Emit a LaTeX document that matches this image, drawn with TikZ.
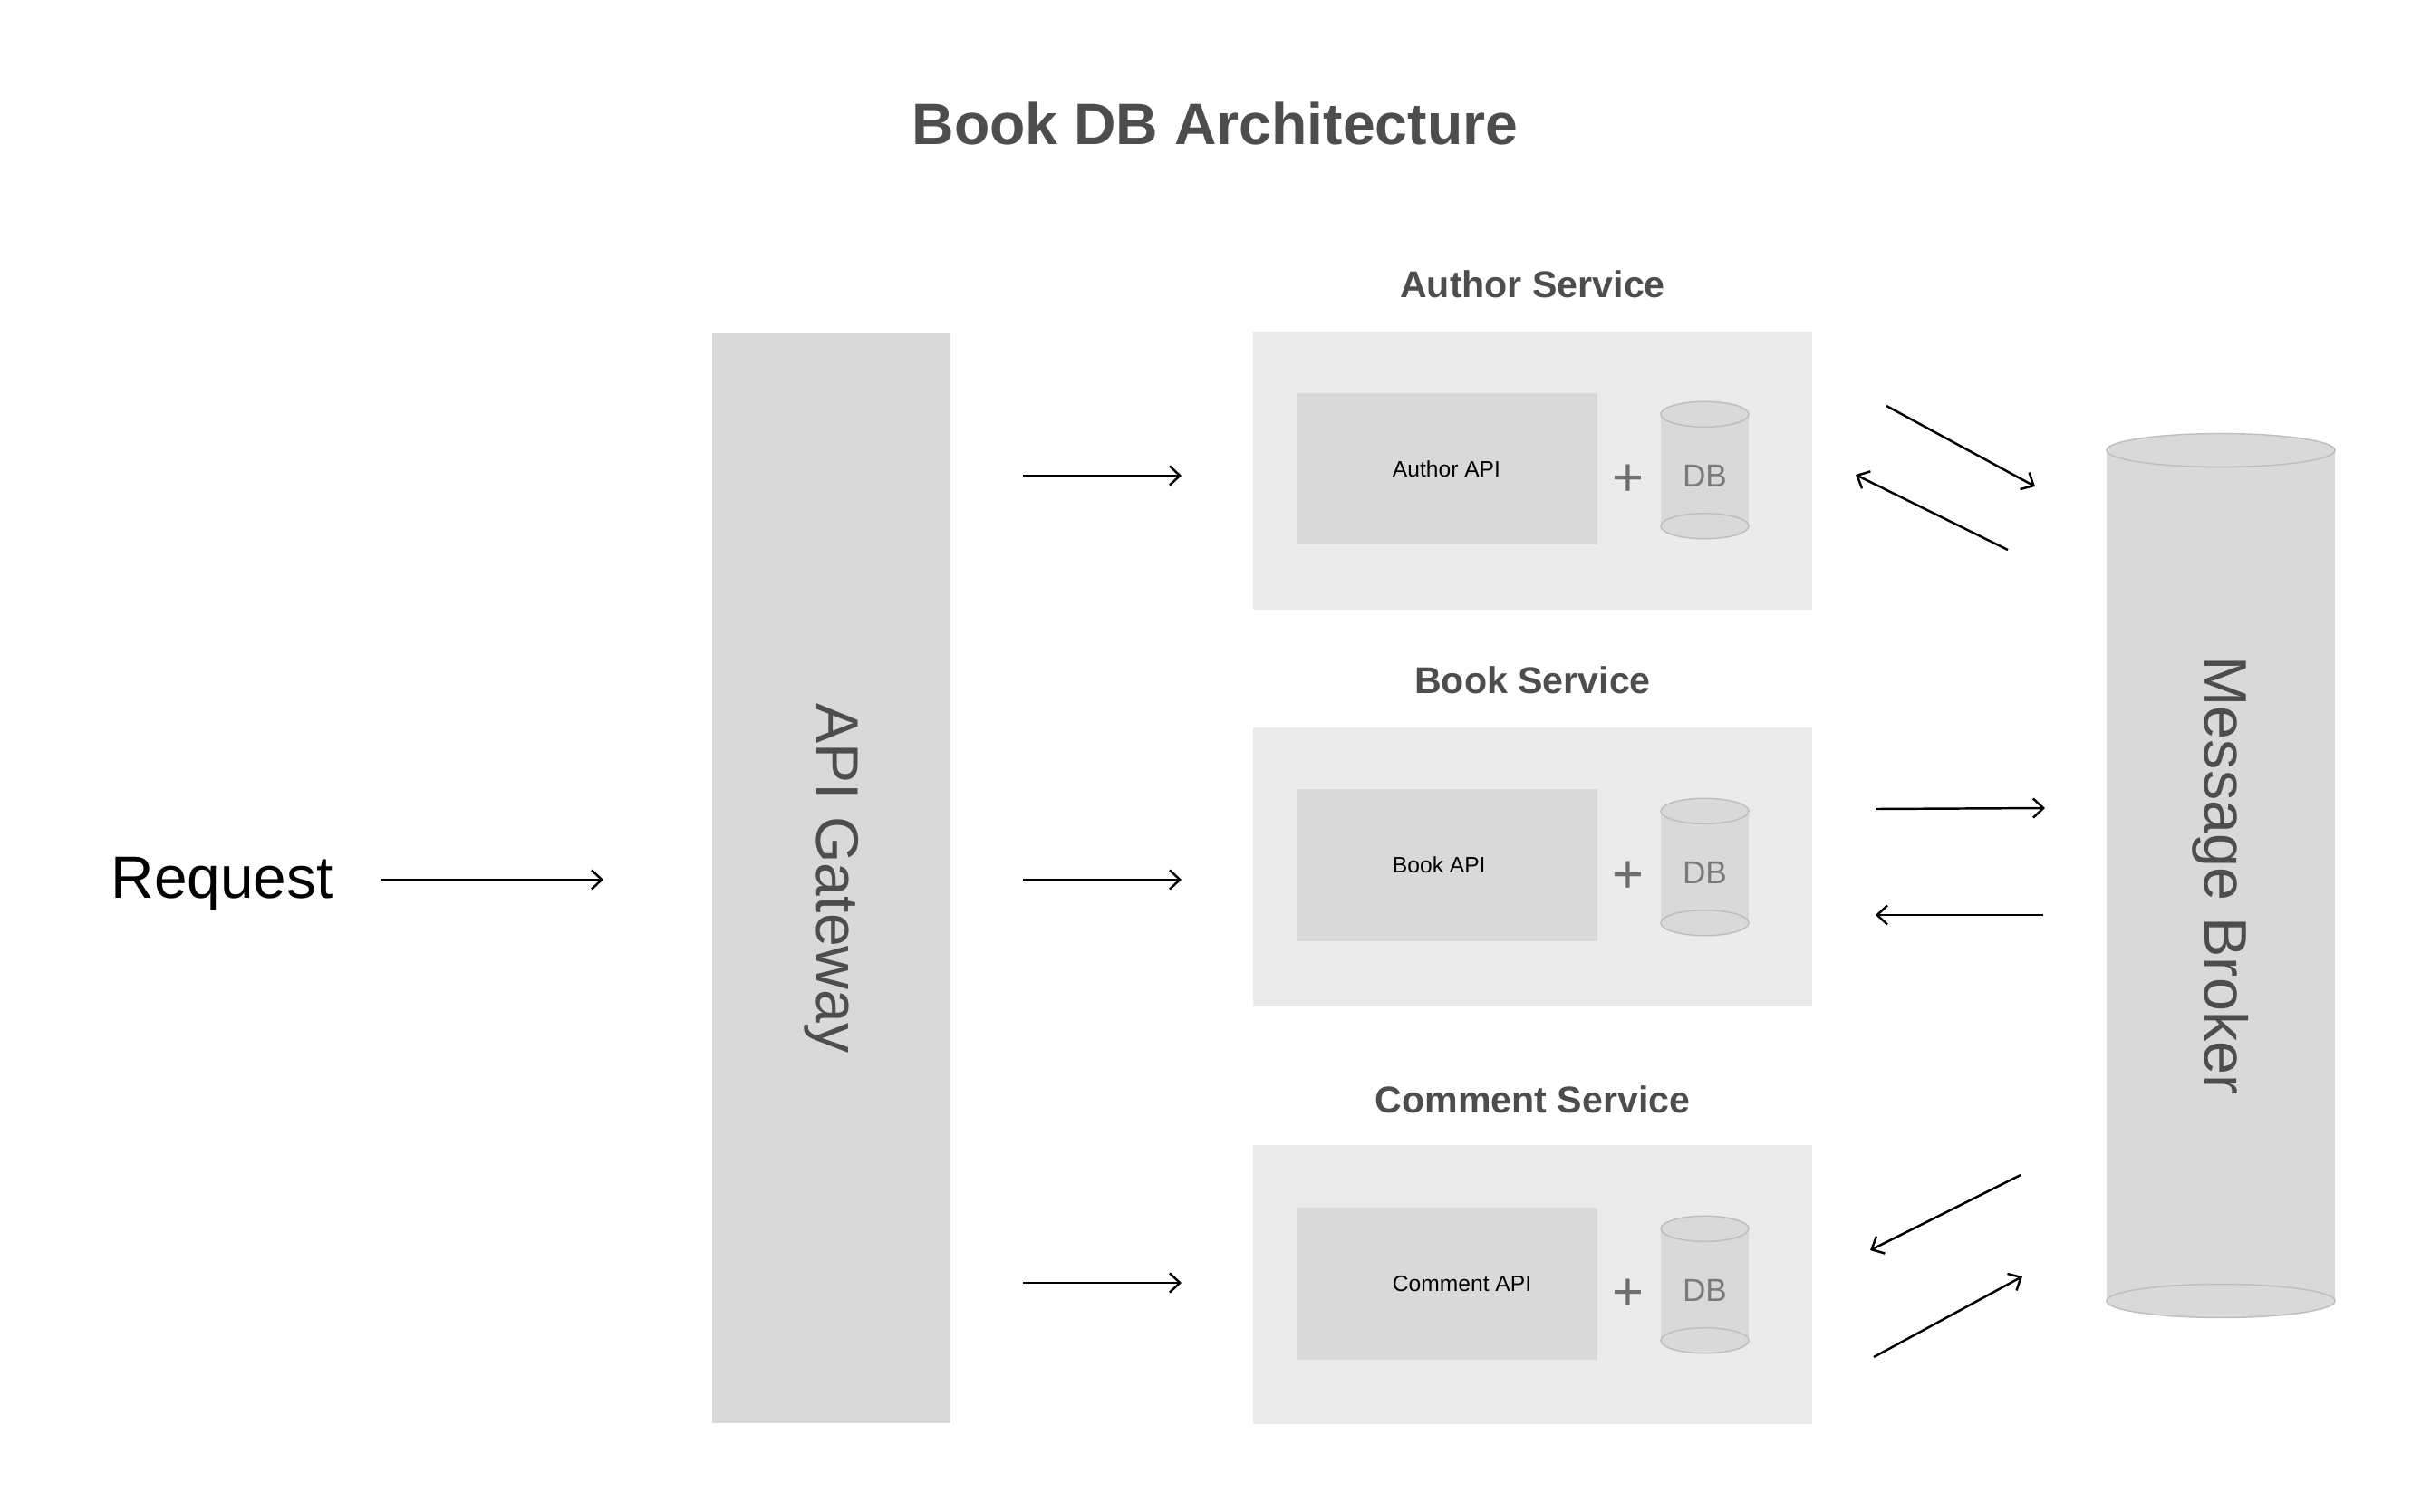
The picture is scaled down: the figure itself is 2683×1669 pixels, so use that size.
\documentclass[tikz,border=0pt]{standalone}
\usepackage{fontspec}
\setmainfont{Liberation Sans}
\usetikzlibrary{positioning,arrows.meta}
\definecolor{inkgray}{HTML}{4D4D4D}
\definecolor{dbgray}{HTML}{7A7A7A}
\definecolor{plusgray}{HTML}{6E6E6E}
\definecolor{svcfill}{HTML}{EBEBEB}
\definecolor{partfill}{HTML}{D9D9D9}
\definecolor{rimgray}{HTML}{BDBDBD}
\tikzset{
headline/.style={font=\fontsize{18.3}{22}\selectfont\bfseries,text=inkgray},
bigtext/.style={font=\fontsize{18.7}{22}\selectfont,text=black},
svcbox/.style={fill=svcfill,minimum width=6.17cm,minimum height=3.07cm,inner sep=0pt},
svctitle/.style={font=\fontsize{11.7}{14}\selectfont\bfseries,text=inkgray},
apibox/.style={fill=partfill,minimum width=3.31cm,minimum height=1.67cm,inner sep=0pt},
apilabel/.style={font=\fontsize{7}{8}\selectfont,text=black,inner sep=0pt},
plussign/.style={font=\fontsize{17}{18}\selectfont,text=plusgray,inner sep=0pt},
dbbody/.style={fill=partfill,minimum width=0.97cm,minimum height=1.22cm,inner sep=0pt,text height=10.6pt,text depth=0pt,font=\fontsize{10}{12}\selectfont,text=dbgray},
dbrim/.style={draw=rimgray,fill=partfill,line width=0.4pt},
gatewaybar/.style={fill=partfill,rotate=-90,minimum width=12.03cm,minimum height=2.63cm,inner sep=0pt,font=\fontsize{18.8}{22}\selectfont,text=inkgray},
brokerbar/.style={fill=partfill,rotate=-90,minimum width=9.37cm,minimum height=2.52cm,inner sep=0pt,font=\fontsize{18.9}{22}\selectfont,text=inkgray},
flow/.style={draw=black,line width=0.7pt,-{Straight Barb[length=3.2pt,width=6pt]}}
}
\begin{document}
\begin{tikzpicture}[x=0.01cm,y=-0.01cm]
\useasboundingbox (0,0) rectangle (2683,1669);
\node[headline] (title) at (1341,136) {Book DB Architecture};
\node[bigtext] (request) at (245,976) {Request};
\node[gatewaybar] (gateway) at (917.5,969.5) {API Gateway};

\node[svcbox] (author) at (1691.5,519.5) {};
\node[svctitle,above=0.24cm of author] (authortitle) {Author Service};
\node[apibox] (authorapi) at (1597.5,517.5) {};
\node[apilabel,right=1.05cm of authorapi.west] (authorapilabel) {Author API};
\node[plussign] (authorplus) at (1797,530) {+};
\node[dbbody] (authordb) at (1881.5,519) {DB};
\draw[dbrim] (authordb.south) ellipse [x radius=0.485cm,y radius=0.14cm];
\draw[dbrim] (authordb.north) ellipse [x radius=0.485cm,y radius=0.14cm];

\node[svcbox] (book) at (1691.5,957) {};
\node[svctitle,above=0.24cm of book] (booktitle) {Book Service};
\node[apibox] (bookapi) at (1597.5,955) {};
\node[apilabel,right=1.05cm of bookapi.west] (bookapilabel) {Book API};
\node[plussign] (bookplus) at (1797,968) {+};
\node[dbbody] (bookdb) at (1881.5,957) {DB};
\draw[dbrim] (bookdb.south) ellipse [x radius=0.485cm,y radius=0.14cm];
\draw[dbrim] (bookdb.north) ellipse [x radius=0.485cm,y radius=0.14cm];

\node[svcbox] (comment) at (1691.5,1418) {};
\node[svctitle,above=0.22cm of comment] (commenttitle) {Comment Service};
\node[apibox] (commentapi) at (1597.5,1417) {};
\node[apilabel,right=1.05cm of commentapi.west] (commentapilabel) {Comment API};
\node[plussign] (commentplus) at (1797,1429) {+};
\node[dbbody] (commentdb) at (1881.5,1418) {DB};
\draw[dbrim] (commentdb.south) ellipse [x radius=0.485cm,y radius=0.14cm];
\draw[dbrim] (commentdb.north) ellipse [x radius=0.485cm,y radius=0.14cm];

\node[brokerbar] (broker) at (2451,966.5) {Message Broker};
\draw[dbrim] (broker.east) ellipse [x radius=1.26cm,y radius=0.185cm];
\draw[dbrim] (broker.west) ellipse [x radius=1.26cm,y radius=0.185cm];

\coordinate (req-a) at (420,971);
\coordinate (req-b) at (666,971);
\coordinate (ga-a) at (1129,525);
\coordinate (ga-b) at (1304,525);
\coordinate (gb-a) at (1129,971);
\coordinate (gb-b) at (1304,971);
\coordinate (gc-a) at (1129,1416);
\coordinate (gc-b) at (1304,1416);
\coordinate (aout-a) at (2082,448);
\coordinate (aout-b) at (2246,537);
\coordinate (ain-a) at (2216,607);
\coordinate (ain-b) at (2048,524);
\coordinate (bout-a) at (2070,893);
\coordinate (bout-b) at (2257,892);
\coordinate (bin-a) at (2255,1010);
\coordinate (bin-b) at (2070,1010);
\coordinate (cin-a) at (2230,1297);
\coordinate (cin-b) at (2064,1380);
\coordinate (cout-a) at (2068,1498);
\coordinate (cout-b) at (2232,1409);
\draw[flow] (req-a) -- (req-b);
\draw[flow] (ga-a) -- (ga-b);
\draw[flow] (gb-a) -- (gb-b);
\draw[flow] (gc-a) -- (gc-b);
\draw[flow] (aout-a) -- (aout-b);
\draw[flow] (ain-a) -- (ain-b);
\draw[flow] (bout-a) -- (bout-b);
\draw[flow] (bin-a) -- (bin-b);
\draw[flow] (cin-a) -- (cin-b);
\draw[flow] (cout-a) -- (cout-b);
\end{tikzpicture}
\end{document}
